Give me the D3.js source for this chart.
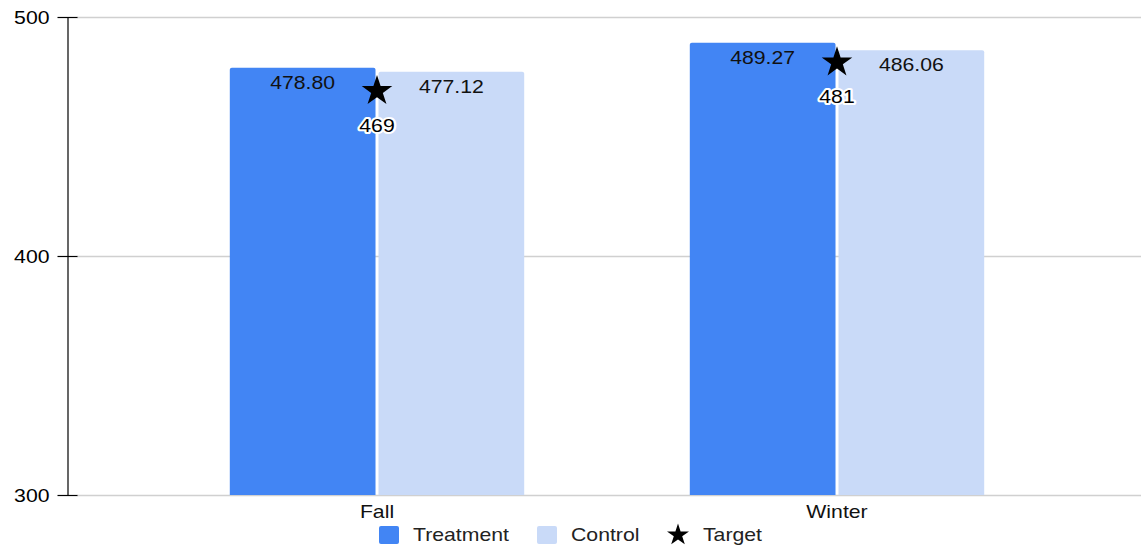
<!DOCTYPE html>
<html>
<head>
<meta charset="utf-8">
<script src="https://cdn.jsdelivr.net/npm/d3@7"></script>
<style>
  html, body { margin: 0; padding: 0; background: #fff; }
  svg { display: block; font-family: "Liberation Sans", Arial, sans-serif; }
</style>
</head>
<body>
<svg id="chart" width="1141" height="550"></svg>
<script>
// Scores by term
const categories = ["Fall", "Winter"];
const seriesNames = ["Treatment", "Control"];
const treatment = [478.80, 489.27];
const control = [477.12, 486.06];
const target = [469, 481];
const yTicks = [300, 400, 500];
const colors = ["#4285f4", "#c9daf8"];

const svg = d3.select("#chart");
const W = 1141, H = 550;
const axisX = 67, plotLeft = 77, plotRight = W;
const yTop = 17, yBottom = 495;
const FS = 18, SX = 1.18; // font size and horizontal stretch of all labels

const y = d3.scaleLinear().domain([300, 500]).range([yBottom, yTop]);
const x0 = d3.scaleBand().domain(categories).range([147, 1067]).paddingInner(0.36).paddingOuter(0.18);
const x1 = d3.scaleBand().domain(seriesNames).range([0, x0.bandwidth()]).paddingInner(0.02);

// Places a wide-set text label at (x, y)
function label(sel, x, yy) {
  return sel.attr("transform", `translate(${x},${yy}) scale(${SX},1)`).attr("font-size", FS);
}

// Gridlines
svg.append("g")
  .selectAll("line")
  .data(yTicks)
  .join("line")
  .attr("x1", plotLeft).attr("x2", plotRight)
  .attr("y1", d => Math.round(y(d)) + 0.5).attr("y2", d => Math.round(y(d)) + 0.5)
  .attr("stroke", "#d0d0d0").attr("stroke-width", 1.5);

// Y axis
const yAxis = d3.axisLeft(y).tickValues(yTicks).tickSize(10).tickPadding(7).tickSizeOuter(0);
const gy = svg.append("g").attr("transform", `translate(${axisX + 0.5},0)`).call(yAxis);
gy.select(".domain").attr("stroke", "#000").attr("stroke-width", 1.2);
gy.selectAll(".tick line").attr("stroke", "#000").attr("stroke-width", 1.2).attr("x1", 10).attr("x2", -10);
gy.selectAll(".tick text")
  .attr("x", 0).attr("dy", null).attr("dominant-baseline", "central")
  .attr("transform", `translate(-18,0) scale(${SX},1)`)
  .attr("font-size", FS).attr("fill", "#000")
  .attr("font-family", "Liberation Sans, Arial, sans-serif");

// Rounded-top bar path
function topRounded(x, yT, w, h, r) {
  return `M${x},${yT + h}V${yT + r}Q${x},${yT} ${x + r},${yT}H${x + w - r}Q${x + w},${yT} ${x + w},${yT + r}V${yT + h}Z`;
}

const rows = categories.map((c, i) => ({ cat: c, vals: [treatment[i], control[i]], target: target[i] }));

const groups = svg.append("g").selectAll("g")
  .data(rows)
  .join("g")
  .attr("transform", d => `translate(${x0(d.cat)},0)`);

groups.selectAll("path.bar")
  .data(d => d.vals.map((v, j) => ({ v, s: seriesNames[j], j })))
  .join("path")
  .attr("class", "bar")
  .attr("d", d => topRounded(x1(d.s), y(d.v), x1.bandwidth(), yBottom - y(d.v), 2))
  .attr("fill", d => colors[d.j]);

groups.selectAll("text.val")
  .data(d => d.vals.map((v, j) => ({ v, s: seriesNames[j], j })))
  .join("text")
  .attr("class", "val")
  .call(s => s.each(function (d) {
    label(d3.select(this), x1(d.s) + x1.bandwidth() / 2, y(d.v) + 21);
  }))
  .attr("text-anchor", "middle")
  .attr("fill", "#111")
  .text(d => d.v.toFixed(2));

// Target markers
const star = d3.symbol().type(d3.symbolStar).size(290);
groups.append("path")
  .attr("d", star)
  .attr("transform", d => `translate(${x0.bandwidth() / 2},${y(d.target)})`)
  .attr("fill", "#000");

groups.append("text")
  .each(function (d) { label(d3.select(this), x0.bandwidth() / 2, y(d.target) + 41); })
  .attr("text-anchor", "middle")
  .attr("fill", "#000")
  .attr("stroke", "#fff").attr("stroke-width", 4).attr("stroke-linejoin", "round")
  .attr("paint-order", "stroke")
  .text(d => d.target);

// Category labels
svg.append("g").selectAll("text")
  .data(categories)
  .join("text")
  .each(function (d) { label(d3.select(this), x0(d) + x0.bandwidth() / 2, 518); })
  .attr("text-anchor", "middle")
  .attr("fill", "#111")
  .text(d => d);

// Legend
const legend = svg.append("g").attr("transform", "translate(0,535)");
const legendItems = [
  { name: "Treatment", kind: "rect", color: colors[0], x: 379 },
  { name: "Control", kind: "rect", color: colors[1], x: 537 },
  { name: "Target", kind: "star", color: "#000", x: 668 }
];
legendItems.forEach(it => {
  if (it.kind === "rect") {
    legend.append("rect").attr("x", it.x).attr("y", -9).attr("width", 20).attr("height", 18)
      .attr("rx", 2).attr("fill", it.color);
  } else {
    legend.append("path").attr("d", d3.symbol().type(d3.symbolStar).size(150))
      .attr("transform", `translate(${it.x + 10},0)`).attr("fill", it.color);
  }
  label(legend.append("text"), it.x + (it.kind === "rect" ? 34 : 35), 6)
    .attr("fill", "#222").text(it.name);
});
</script>
</body>
</html>
